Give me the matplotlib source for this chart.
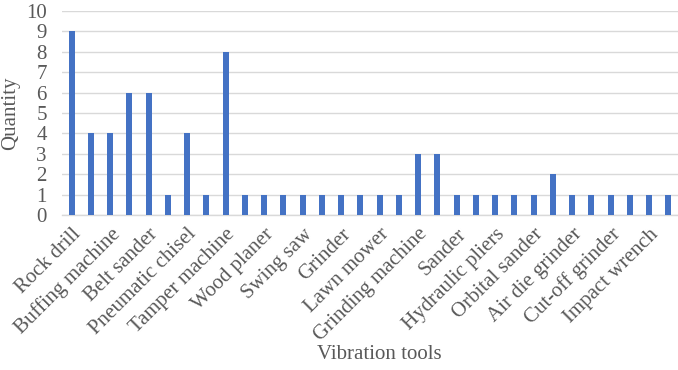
import matplotlib
matplotlib.use("Agg")
import matplotlib.pyplot as plt
import numpy as np

# quantities per tool, one bar per tool
quantity = [9, 4, 4, 6, 6, 1, 4, 1, 8, 1, 1, 1, 1, 1, 1, 1,
            1, 1, 3, 3, 1, 1, 1, 1, 1, 2, 1, 1, 1, 1, 1, 1]

# only every second tool gets a label on the axis
tick_labels = ["Rock drill", "Buffing machine", "Belt sander", "Pneumatic chisel",
               "Tamper machine", "Wood planer", "Swing saw", "Grinder",
               "Lawn mower", "Grinding machine", "Sander", "Hydraulic pliers",
               "Orbital sander", "Air die grinder", "Cut-off grinder", "Impact wrench"]

plt.rcParams['font.family'] = ['Liberation Serif', 'DejaVu Serif']
text_color = "#595959"
fs = 15

fig = plt.figure(figsize=(6.78, 3.70), dpi=100)
ax = fig.add_axes([0.0915, 0.419, 0.9085, 0.551])

x = np.arange(len(quantity))
ax.bar(x, quantity, width=0.32, color="#4472C4", zorder=3)

ax.set_xlim(-0.5, len(quantity) - 0.5)
ax.set_ylim(0, 10)
ax.set_yticks(range(0, 11))

ax.set_xticks(x[::2])
ax.set_xticklabels(tick_labels, rotation=45, ha="right", rotation_mode="anchor")

ax.tick_params(axis="both", length=0, labelsize=fs, labelcolor=text_color)
ax.tick_params(axis="x", pad=7)
ax.tick_params(axis="y", pad=11)

ax.grid(axis="y", color="#d9d9d9", linewidth=1.0, zorder=0)
for s in ["top", "right", "left"]:
    ax.spines[s].set_visible(False)
ax.spines["bottom"].set_color("#d9d9d9")
ax.spines["bottom"].set_linewidth(1.0)

ax.set_ylabel("Quantity", fontsize=fs, color=text_color, labelpad=4)
fig.text(0.559, 0.041, "Vibration tools", fontsize=fs, color=text_color,
         ha="center", va="center")

fig.savefig("out.png", dpi=100)
